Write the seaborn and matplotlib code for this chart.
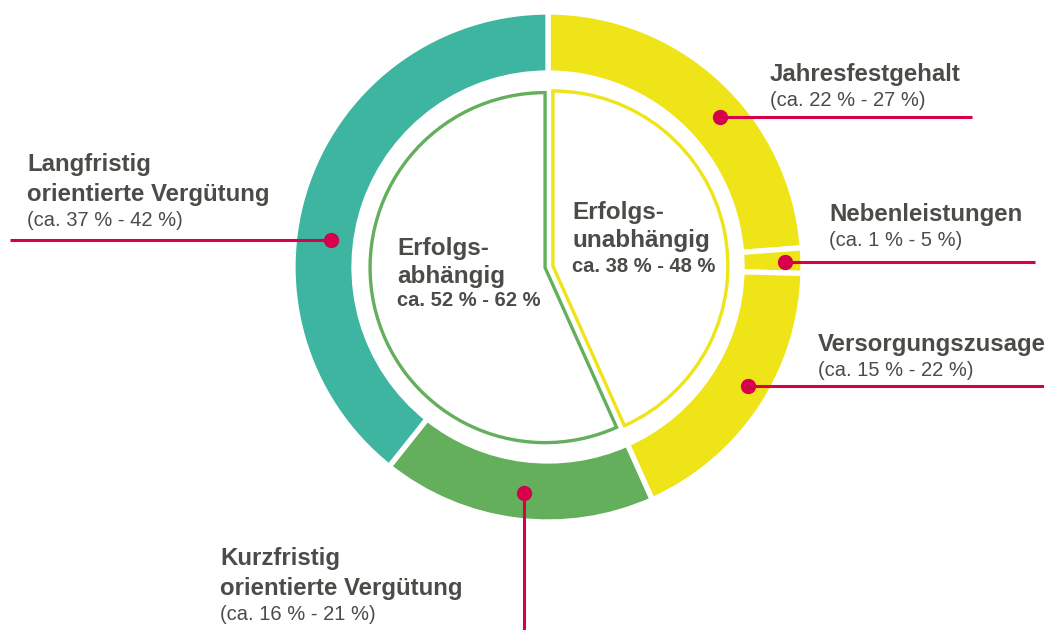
import numpy as np
import matplotlib
matplotlib.use("Agg")
import matplotlib.pyplot as plt
import seaborn as sns

# outer ring: components of the compensation (clockwise from top)
outer_labels = ["Jahresfestgehalt", "Nebenleistungen", "Versorgungszusage",
                "Kurzfristig\norientierte Vergütung", "Langfristig\norientierte Vergütung"]
outer_ranges = ["(ca. 22 % - 27 %)", "(ca. 1 % - 5 %)", "(ca. 15 % - 22 %)",
                "(ca. 16 % - 21 %)", "(ca. 37 % - 42 %)"]
outer_shares = [23.8, 1.6, 17.9, 17.4, 39.3]
outer_colors = ["#EEE418", "#EEE418", "#EEE418", "#63AF5B", "#3DB5A0"]

# inner pie: performance related vs. not
inner_labels = ["Erfolgs-\nunabhängig", "Erfolgs-\nabhängig"]
inner_ranges = ["ca. 38 % - 48 %", "ca. 52 % - 62 %"]
inner_shares = [43.3, 56.7]
inner_colors = ["#EEE418", "#63AF5B"]

sns.set_theme(style="white")
plt.rcParams["font.family"] = ["Liberation Sans", "DejaVu Sans"]

TEXT = "#4B4B48"
RED = "#D6004C"
H = 630

fig = plt.figure(figsize=(10.44, 6.3), dpi=100)
ax = fig.add_axes([0, 0, 1, 1])

cx, cy = 548, H - 267

ax.pie(outer_shares, colors=outer_colors, startangle=90, counterclock=False,
       radius=255, center=(cx, cy), frame=True,
       wedgeprops=dict(width=61, edgecolor="white", linewidth=3.8))

# explode is in data units (pixels here)
wedges, _ = ax.pie(inner_shares, startangle=90, counterclock=False,
                   radius=175, center=(cx, cy), frame=True, explode=[5, 3],
                   wedgeprops=dict(facecolor="white", linewidth=2.4))
for w, c in zip(wedges, inner_colors):
    w.set_edgecolor(c)

ax.set_xlim(0, 1044)
ax.set_ylim(0, H)
ax.set_aspect("equal")
ax.axis("off")

# connector lines with dots: (dot, line end) in pixel positions
connectors = [((720, 117), (972, 117)),
              ((785, 262), (1035, 262)),
              ((748, 386), (1044, 386)),
              ((524, 493), (524, 632)),
              ((331, 240), (10, 240))]
for (x0, y0), (x1, y1) in connectors:
    ax.plot([x0, x1], [H - y0, H - y1], color=RED, lw=2.2, solid_capstyle="butt", zorder=5)
    ax.plot(x0, H - y0, "o", color=RED, ms=10, zorder=6)

# label positions: (x, first line centre y)
label_pos = [(770, 75), (829, 215), (818, 344), (220, 558), (27, 165)]
for (lx, ly), name, rng in zip(label_pos, outer_labels, outer_ranges):
    lines = name.split("\n")
    for i, line in enumerate(lines):
        ax.text(lx, H - (ly + 30 * i), line, fontsize=17.3, fontweight="bold",
                color=TEXT, ha="left", va="center")
    ax.text(lx, H - (ly + 30 * (len(lines) - 1) + 26), rng, fontsize=14.5,
            color=TEXT, ha="left", va="center")

inner_pos = [(572, 213), (397, 248)]
for (lx, ly), name, rng in zip(inner_pos, inner_labels, inner_ranges):
    for i, line in enumerate(name.split("\n")):
        ax.text(lx, H - (ly + 28 * i), line, fontsize=17.5, fontweight="bold",
                color=TEXT, ha="left", va="center")
    ax.text(lx, H - (ly + 53), rng, fontsize=14.5, fontweight="bold",
            color=TEXT, ha="left", va="center")

fig.savefig("out.png", dpi=100, facecolor="white")
